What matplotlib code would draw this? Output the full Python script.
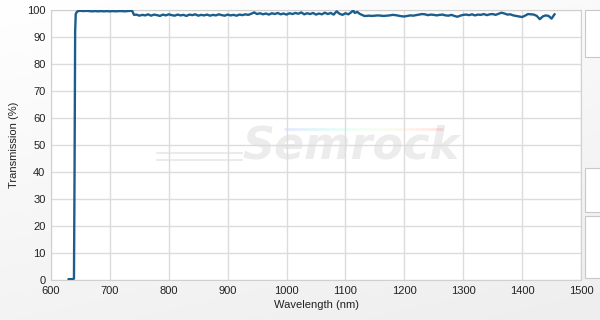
import numpy as np
import matplotlib
matplotlib.use('Agg')
import matplotlib.pyplot as plt
from matplotlib.patches import Rectangle
from matplotlib.collections import LineCollection

plt.rcParams['font.family'] = ['Liberation Sans', 'DejaVu Sans']

# edge rise
rise_wl = [630, 636, 639, 640, 641, 642, 644, 646]
rise_t = [0.3, 0.3, 0.5, 40, 92, 98.5, 99.3, 99.6]

# flat top before the step at ~740 nm
top_wl = [650, 655, 660, 665, 670, 675, 680, 685, 690, 695, 700, 705, 710, 715,
          720, 725, 730, 735, 738]
top_t = [99.7, 99.6, 99.7, 99.6, 99.5, 99.6, 99.5, 99.6, 99.5, 99.6, 99.5, 99.6,
         99.5, 99.6, 99.6, 99.5, 99.6, 99.7, 99.6]

# noisy section 740 - 1130 nm
mid_wl = [741, 745, 750, 755, 760, 765, 770, 775, 780, 785, 790, 795, 800, 805,
          810, 815, 820, 825, 830, 835, 840, 845, 850, 855, 860, 865, 870, 875,
          880, 885, 890, 895, 900, 905, 910, 915, 920, 925, 930, 935, 940, 945,
          950, 955, 960, 965, 970, 975, 980, 985, 990, 995, 1000, 1005, 1010,
          1015, 1020, 1025, 1030, 1035, 1040, 1045, 1050, 1055, 1060, 1065, 1070,
          1075, 1080, 1085, 1090, 1095, 1100, 1105, 1110, 1113, 1116, 1120, 1124,
          1128, 1132]
mid_t = [98.2, 98.3, 97.9, 98.2, 98.0, 98.4, 97.9, 98.3, 98.1, 97.8, 98.3, 98.0,
         98.4, 98.1, 97.9, 98.3, 98.0, 98.2, 97.8, 98.3, 98.1, 98.4, 97.9, 98.2,
         98.0, 98.3, 97.9, 98.2, 98.0, 98.4, 98.1, 97.9, 98.3, 98.0, 98.2, 97.9,
         98.3, 98.1, 98.4, 98.2, 98.6, 99.1, 98.5, 98.8, 98.4, 98.7, 98.3, 98.8,
         98.5, 98.9, 98.4, 98.7, 98.3, 98.8, 98.5, 98.9, 98.6, 99.1, 98.4, 98.8,
         98.5, 98.9, 98.3, 98.7, 98.4, 99.0, 98.5, 98.9, 98.3, 99.5, 98.6, 98.2,
         98.8, 98.4, 99.2, 99.8, 98.9, 99.3, 98.6, 98.2, 97.8]

# smoother section 1135 - 1455 nm
end_wl = list(range(1135, 1456, 5))
end_t = [97.8, 97.9, 97.8, 97.9, 98.0, 97.9, 97.8, 97.9, 98.0, 98.2, 98.1, 97.9,
         97.7, 97.6, 97.8, 98.0, 97.9, 98.1, 98.3, 98.5, 98.4, 98.1, 98.3, 98.2,
         98.0, 98.2, 98.3, 98.0, 97.9, 98.2, 97.8, 97.5, 97.9, 98.2, 98.3, 98.1,
         98.4, 98.0, 98.3, 98.2, 98.5, 98.1, 98.4, 98.5, 98.2, 98.6, 99.0, 98.7,
         98.3, 98.4, 98.0, 97.8, 97.6, 97.4, 97.9, 98.5, 98.4, 98.3, 97.8, 96.6,
         97.6, 98.0, 97.8, 96.8, 98.4]

wl = np.array(rise_wl + top_wl + mid_wl + end_wl)
trans = np.array(rise_t + top_t + mid_t + end_t)

x_ticks = [600, 700, 800, 900, 1000, 1100, 1200, 1300, 1400, 1500]
y_ticks = [0, 10, 20, 30, 40, 50, 60, 70, 80, 90, 100]

fig = plt.figure(figsize=(6, 3.2), dpi=100)

# light gradient background
bg = fig.add_axes([0, 0, 1, 1], zorder=-10)
grad = np.linspace(0, 1, 200)[:, None] * 0.7 + np.linspace(0, 1, 300)[None, :] * 0.3
bg.imshow(grad, cmap=plt.cm.colors.LinearSegmentedColormap.from_list(
    'bg', ['#ffffff', '#eeeeee']), aspect='auto', extent=[0, 1, 0, 1], origin='upper')
bg.set_xlim(0, 1)
bg.set_ylim(0, 1)
bg.axis('off')

# side panels on the right
for y0, y1 in [(10, 57), (168, 212), (216, 278)]:
    bg.add_patch(Rectangle((585 / 600, 1 - y1 / 320), 0.05, (y1 - y0) / 320,
                           facecolor='white', edgecolor='#c8c8c8', lw=0.8))

ax = fig.add_axes([51 / 600, 40 / 320, 530 / 600, 270 / 320])
ax.set_facecolor('white')

# watermark
ax.text(0.565, 0.495, 'Semrock', transform=ax.transAxes, ha='center', va='center',
        fontsize=32, fontweight='bold', style='italic', color='#ececec',
        family='DejaVu Sans', zorder=0)
for yy in [0.47, 0.445]:
    ax.plot([0.2, 0.36], [yy, yy], transform=ax.transAxes, color='#e8e8e8',
            lw=1.2, zorder=0)
xs = np.linspace(0.44, 0.74, 30)
segs = [[(xs[i], 0.56), (xs[i + 1], 0.56)] for i in range(len(xs) - 1)]
lc = LineCollection(segs, colors=plt.cm.rainbow(np.linspace(0.1, 0.95, len(segs))),
                    alpha=0.12, lw=2, transform=ax.transAxes, zorder=0)
ax.add_collection(lc)

ax.plot(wl, trans, color='#1b5e8c', lw=1.7, zorder=3)

ax.set_xlim(600, 1500)
ax.set_ylim(0, 100)
ax.set_xticks(x_ticks)
ax.set_yticks(y_ticks)
ax.grid(True, color='#dcdcdc', lw=1)
ax.tick_params(length=0, labelsize=8, colors='#222222', pad=4)
for s in ax.spines.values():
    s.set_color('#d0d0d0')
ax.set_xlabel('Wavelength (nm)', fontsize=8, color='#222222', labelpad=3)
ax.set_ylabel('Transmission (%)', fontsize=8, color='#222222', labelpad=6)

fig.savefig('out.png', dpi=100)
